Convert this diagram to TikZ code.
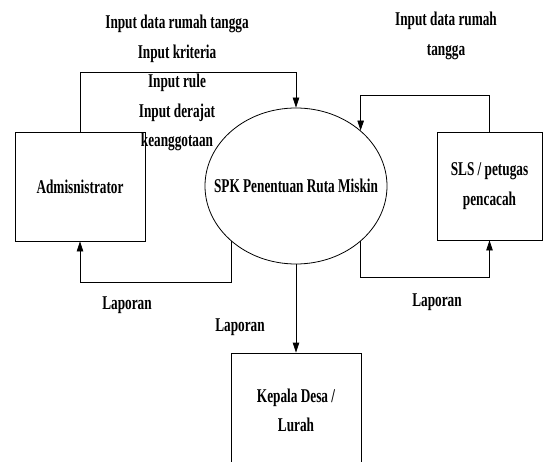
\documentclass[tikz,border=0pt]{standalone}
\usepackage{fontspec}
\usepackage{tikz}
\usetikzlibrary{positioning, calc, shapes.geometric, arrows.meta}
\newfontfamily\diagfont[FakeStretch=0.68]{Liberation Serif}
\tikzset{
    entity/.style={
        rectangle,
        minimum width=130pt,
        minimum height=109pt,
        align=center,
        draw=black,
        line width=0.8pt
    },
    process/.style={
        ellipse,
        minimum width=182pt,
        minimum height=156pt,
        draw=black,
        line width=0.8pt
    },
    lbl/.style={align=center, inner sep=0pt},
    flow/.style={-{Triangle[length=10pt, width=6.5pt]}, line width=0.8pt, draw=black}
}

\begin{document}
\begin{tikzpicture}[x=1pt, y=1pt, font=\diagfont\bfseries\fontsize{19.5}{29.5}\selectfont]
\useasboundingbox (0,0) rectangle (543,461);

% Entities and process
\node[process, label={center:SPK Penentuan Ruta Miskin}] (spk) at (296, 275) {};
\node[entity] (admin) at (80, 274.5) {Admisnistrator};
\node[entity, minimum width=105pt, minimum height=108pt] (sls) at (489.5, 275) {SLS / petugas\\pencacah};
\node[entity, minimum height=115pt] (kepala) at (296, 50.5) {Kepala Desa /\\Lurah};

% Flow levels
\coordinate (top_l) at (0, 389);
\coordinate (top_r) at (0, 366);
\coordinate (bot_l) at (0, 179);
\coordinate (bot_r) at (0, 184);

% Data flows
\draw[flow] (admin.north) |- (top_l -| spk.north) -- (spk.north);
\draw[flow] (sls.north) |- (top_r -| spk.north east) -- (spk.north east);
\draw[flow] (spk.south west) |- (bot_l -| admin.south) -- (admin.south);
\draw[flow] (spk.south east) |- (bot_r -| sls.south) -- (sls.south);
\draw[flow] (spk.south) -- (kepala.north);

% Labels
\node[lbl] (in_admin) at (177, 378) {Input data rumah tangga\\Input kriteria\\Input rule\\Input derajat\\keanggotaan};
\node[lbl] (in_sls) at (446, 425) {Input data rumah\\tangga};
\node[lbl] (lap_admin) at (127, 156) {Laporan};
\node[lbl] (lap_sls) at (437, 159) {Laporan};
\node[lbl] (lap_kepala) at (240, 134) {Laporan};

\end{tikzpicture}
\end{document}
